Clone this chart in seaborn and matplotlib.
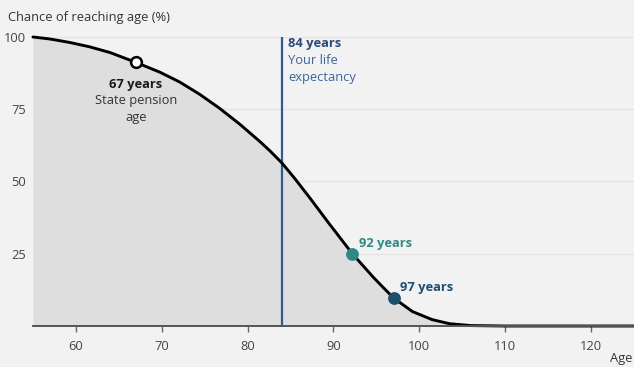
import matplotlib
matplotlib.use("Agg")
import matplotlib.pyplot as plt
import seaborn as sns
import pandas as pd

# survival curve
ages = [55, 57, 59.3, 61.6, 64, 67, 69.8, 72.1, 74.4, 76.7, 79.1, 81.4, 82.6,
        84, 85.5, 87.2, 89.5, 92.2, 94.6, 95.7, 97, 99.2, 101.5, 103.5, 106,
        110, 125]
chance = [100, 99.3, 98.1, 96.6, 94.6, 91.2, 87.8, 84.4, 80.2, 75.4, 69.8,
          63.9, 60.6, 56.4, 51, 44.5, 35.4, 25, 17, 13.6, 9.7, 5, 2.2, 0.8,
          0.15, 0, 0]

life_expectancy = 84
pension_age = 67
pension_chance = 91.2
marker_ages = [92.2, 97]
marker_chance = [25, 9.7]
marker_labels = ["92 years", "97 years"]
marker_colors = ["#2f8a86", "#1f4d6e"]

x_ticks = [60, 70, 80, 90, 100, 110, 120]
y_ticks = [25, 50, 75, 100]

df = pd.DataFrame({"age": ages, "chance": chance})

bg = "#f2f2f2"
fs = 9.3
sns.set_style("white")
plt.rcParams["font.family"] = ["Open Sans", "DejaVu Sans"]

fig = plt.figure(figsize=(6.34, 3.67), dpi=100, facecolor=bg)
ax = fig.add_axes([0.052, 0.1117, 0.948, 0.7875])
ax.set_facecolor(bg)

ax.fill_between(df["age"], df["chance"], 0, color="#dedede", lw=0, zorder=1)
for y in y_ticks:
    ax.axhline(y, color="#e3e3e3", lw=1, zorder=0.5)
sns.lineplot(data=df, x="age", y="chance", ax=ax, color="black", lw=2.1,
             zorder=4, clip_on=False, solid_joinstyle="round")

ax.plot([life_expectancy, life_expectancy], [0, 100], color="#2f5b8f", lw=1.6, zorder=3)
ax.text(life_expectancy + 0.7, 97.6, "84 years", color="#2b4a78", fontsize=fs,
        fontweight="bold", va="center")
ax.text(life_expectancy + 0.7, 91.8, "Your life", color="#3b6599", fontsize=fs, va="center")
ax.text(life_expectancy + 0.7, 86.0, "expectancy", color="#3b6599", fontsize=fs, va="center")

ax.scatter([pension_age], [pension_chance], s=60, facecolor="white",
           edgecolor="black", linewidth=1.8, zorder=5)
ax.text(pension_age, 83.7, "67 years", fontsize=fs, fontweight="bold",
        ha="center", va="center", color="#1a1a1a")
ax.text(pension_age, 78.0, "State pension", fontsize=fs, ha="center", va="center", color="#333333")
ax.text(pension_age, 72.2, "age", fontsize=fs, ha="center", va="center", color="#333333")

for a, c, lab, col in zip(marker_ages, marker_chance, marker_labels, marker_colors):
    ax.scatter([a], [c], s=85, color=col, zorder=5, linewidth=0)
    ax.text(a + 0.8, c + 3.6, lab, fontsize=fs, fontweight="bold", color=col, va="center")

ax.set_xlim(55, 125)
ax.set_ylim(0, 100)
ax.set_xticks(x_ticks)
ax.set_yticks(y_ticks)
ax.tick_params(axis="x", length=4, width=1, color="#666666", labelsize=fs,
               labelcolor="#444444", pad=6, bottom=True)
ax.tick_params(axis="y", length=0, labelsize=fs, labelcolor="#444444", pad=5)
for s in ["top", "right", "left"]:
    ax.spines[s].set_visible(False)
ax.spines["bottom"].set_color("#555555")
ax.spines["bottom"].set_linewidth(1.4)
ax.spines["bottom"].set_zorder(6)
ax.set_xlabel("")
ax.set_ylabel("")

fig.text(0.013, 0.952, "Chance of reaching age (%)", fontsize=fs, color="#333333", va="center")
fig.text(0.997, 0.006, "Age", fontsize=fs, color="#333333", ha="right", va="bottom")

fig.savefig("out.png", dpi=100, facecolor=bg)
